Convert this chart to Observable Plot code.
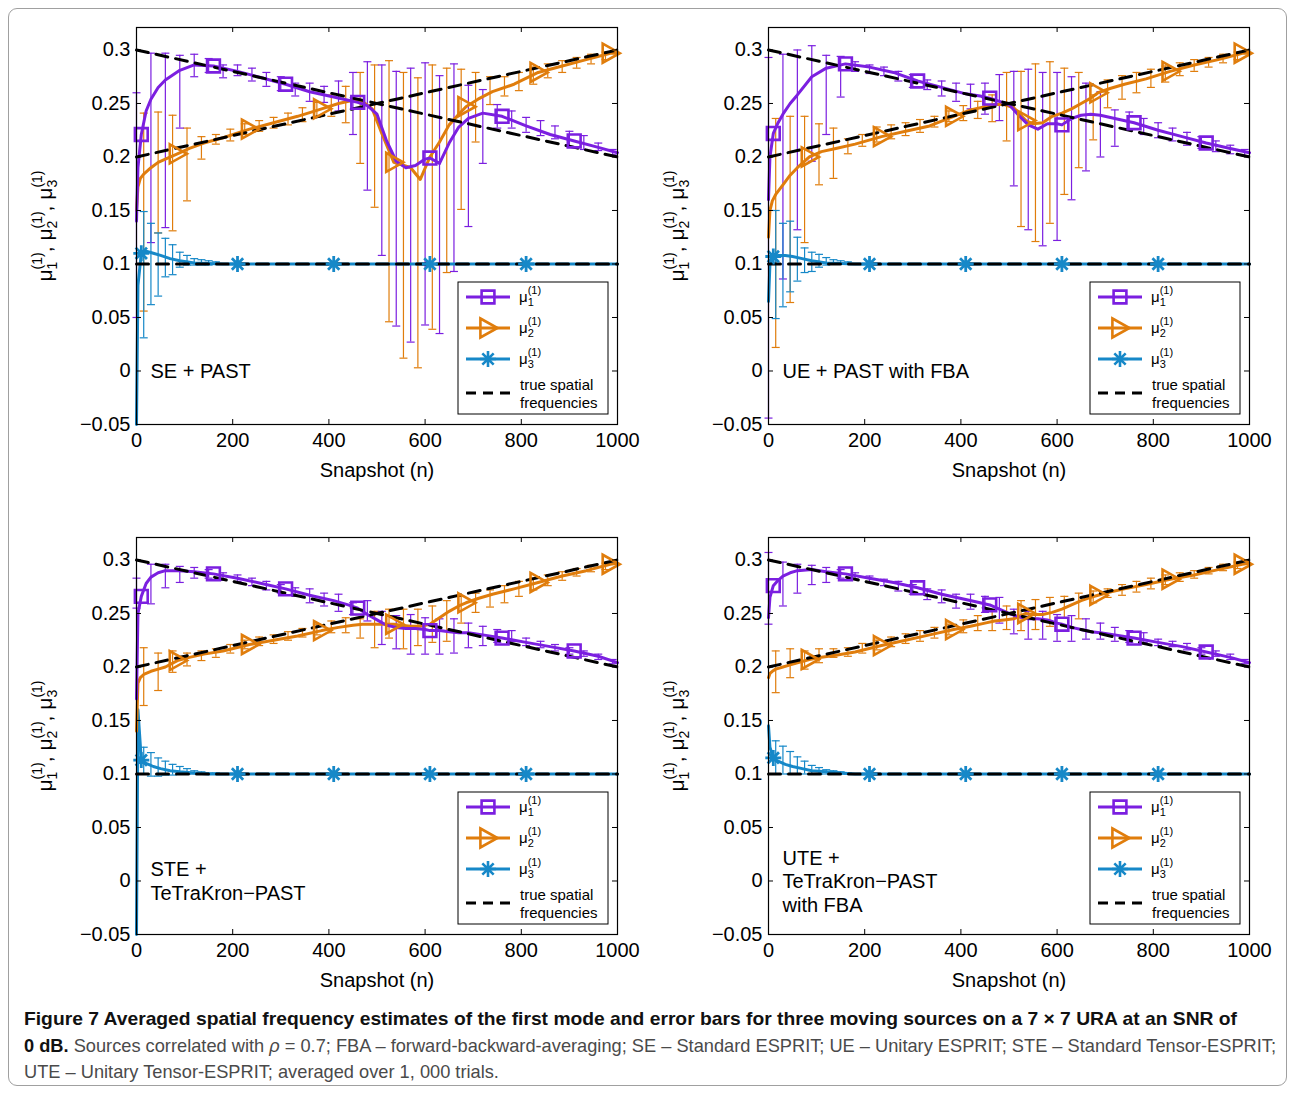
<!DOCTYPE html>
<html><head><meta charset="utf-8">
<script src="https://cdn.jsdelivr.net/npm/d3@7"></script>
<script src="https://cdn.jsdelivr.net/npm/@observablehq/plot@0.6"></script>
<style>
html,body{margin:0;padding:0;background:#fff;}
#fig{position:relative;width:1295px;height:1094px;overflow:hidden;background:#fff;}
#border{position:absolute;left:8px;top:8px;width:1279px;height:1078px;border:1px solid #a0a0a0;border-radius:9px;box-sizing:border-box;}
.panel{position:absolute;}
.cap{position:absolute;left:24px;white-space:nowrap;font-family:"Liberation Sans Narrow","Liberation Sans",Arial,sans-serif;font-size:19px;line-height:26px;transform-origin:0 50%;color:#4a4a4a;}
.cap b{color:#111;}
</style></head><body><div id="fig"><div id="border"></div></div>
<script>
// ---------- shared axes / positions ----------
const snapshotTicks = [0, 200, 400, 600, 800, 1000];
const freqTicks = [-0.05, 0, 0.05, 0.1, 0.15, 0.2, 0.25, 0.3];
const trueX = [0, 1000];
const trueMu1 = [0.3, 0.2];
const trueMu2 = [0.2, 0.3];
const trueMu3 = [0.1, 0.1];
const mu1MarkX = [10, 160, 310, 460, 610, 760, 910];
const mu2MarkX = [85, 235, 385, 535, 685, 835, 985];
const mu3MarkX = [10, 210, 410, 610, 810];
const mu1X = [0,3,10,20,30,45,60,90,120,160,210,260,310,360,410,440,460,480,500,520,540,560,580,600,610,630,650,670,690,720,760,810,860,910,960,1000];
const mu2X = [0,3,8,15,30,45,60,85,110,140,180,235,285,335,385,420,450,470,490,510,535,550,570,590,610,630,650,670,685,710,740,785,835,885,935,985,1000];
const mu3X = [0,3,10,20,35,50,70,90,120,150,180,210,410,610,810,1000];
const mu1BarX = [0,30,60,90,120,150,180,210,240,270,300,330,360,390,420,450,480,510,540,570,600,630,660,690,720,750,780,810,840,870,900,930,960,990];
const mu2BarX = [15,45,75,105,135,165,195,225,255,285,315,345,375,405,435,465,495,525,555,585,615,645,675,705,735,765,795,825,855,885,915,945,975];
const mu3BarX = [15,30,45,60,75,90,105,120,135,150,165];

// ---------- SE + PAST ----------
const seMu1 = [0.14,0.19,0.221,0.243,0.254,0.265,0.272,0.281,0.286,0.285,0.28,0.274,0.268,0.261,0.256,0.253,0.251,0.248,0.24,0.215,0.196,0.19,0.192,0.198,0.199,0.194,0.213,0.228,0.236,0.241,0.238,0.229,0.221,0.215,0.209,0.204];
const seMu2 = [0.15,0.172,0.18,0.184,0.19,0.195,0.198,0.203,0.208,0.213,0.218,0.226,0.232,0.238,0.245,0.25,0.253,0.252,0.245,0.222,0.195,0.193,0.19,0.179,0.2,0.214,0.23,0.24,0.247,0.254,0.261,0.268,0.279,0.285,0.291,0.297,0.297];
const seMu3 = [-0.05,0.08,0.11,0.112,0.11,0.108,0.105,0.103,0.101,0.1005,0.1,0.1,0.1,0.1,0.1,0.1];
const seMu1Hi = [0.26,0.297,0.297,0.295,0.296,0.292,0.286,0.286,0.283,0.279,0.275,0.269,0.269,0.266,0.271,0.279,0.289,0.286,0.28,0.283,0.288,0.276,0.287,0.267,0.263,0.249,0.243,0.237,0.234,0.229,0.224,0.22,0.213,0.207];
const seMu1Lo = [0.05,0.12,0.134,0.227,0.275,0.279,0.274,0.276,0.271,0.266,0.262,0.257,0.252,0.251,0.243,0.221,0.169,0.108,0.042,0.027,0.043,0.035,0.093,0.135,0.194,0.227,0.227,0.223,0.22,0.217,0.21,0.207,0.206,0.202];
const seMu2Hi = [0.241,0.242,0.239,0.227,0.219,0.221,0.226,0.231,0.234,0.237,0.241,0.246,0.251,0.258,0.266,0.279,0.286,0.29,0.279,0.274,0.286,0.283,0.282,0.279,0.275,0.275,0.279,0.284,0.287,0.29,0.293,0.296,0.298];
const seMu2Lo = [0.056,0.129,0.131,0.159,0.198,0.212,0.215,0.221,0.224,0.227,0.23,0.233,0.237,0.238,0.232,0.194,0.153,0.046,0.012,0.003,0.039,0.092,0.151,0.214,0.249,0.257,0.262,0.268,0.274,0.279,0.283,0.287,0.291];
const seMu3Hi = [0.149,0.138,0.129,0.124,0.118,0.111,0.108,0.105,0.104,0.103,0.102];
const seMu3Lo = [0.031,0.062,0.07,0.088,0.09,0.097,0.099,0.099,0.099,0.099,0.1];

// ---------- UE + PAST with FBA ----------
const ueMu1 = [0.16,0.2,0.222,0.232,0.24,0.25,0.258,0.275,0.283,0.287,0.284,0.279,0.271,0.265,0.259,0.257,0.255,0.252,0.249,0.239,0.23,0.226,0.231,0.231,0.23,0.236,0.239,0.24,0.239,0.236,0.232,0.225,0.219,0.213,0.208,0.204];
const ueMu2 = [0.125,0.15,0.159,0.165,0.174,0.183,0.19,0.2,0.205,0.208,0.212,0.219,0.224,0.229,0.238,0.244,0.247,0.249,0.249,0.246,0.234,0.231,0.232,0.238,0.241,0.245,0.25,0.255,0.26,0.264,0.268,0.273,0.28,0.286,0.291,0.297,0.297];
const ueMu3 = [0.065,0.1,0.107,0.108,0.108,0.107,0.105,0.103,0.101,0.1005,0.1,0.1,0.1,0.1,0.1,0.1];
const ueMu1Hi = [0.293,0.296,0.3,0.304,0.295,0.294,0.289,0.286,0.284,0.28,0.277,0.272,0.271,0.269,0.268,0.269,0.277,0.28,0.282,0.279,0.279,0.275,0.269,0.261,0.244,0.242,0.236,0.232,0.227,0.223,0.219,0.215,0.211,0.207];
const ueMu1Lo = [-0.044,0.086,0.132,0.196,0.221,0.256,0.28,0.278,0.276,0.271,0.265,0.263,0.257,0.252,0.245,0.24,0.234,0.173,0.132,0.117,0.122,0.16,0.187,0.2,0.21,0.226,0.221,0.218,0.215,0.211,0.208,0.205,0.203,0.201];
const ueMu2Hi = [0.236,0.238,0.238,0.231,0.227,0.217,0.221,0.228,0.23,0.232,0.235,0.238,0.243,0.248,0.252,0.258,0.279,0.28,0.287,0.289,0.283,0.279,0.258,0.272,0.276,0.279,0.282,0.285,0.288,0.291,0.293,0.296,0.298];
const ueMu2Lo = [0.022,0.064,0.12,0.174,0.18,0.203,0.21,0.214,0.217,0.22,0.223,0.228,0.233,0.234,0.236,0.233,0.215,0.135,0.121,0.138,0.165,0.19,0.216,0.246,0.254,0.26,0.265,0.27,0.276,0.28,0.284,0.288,0.291];
const ueMu3Hi = [0.15,0.138,0.14,0.125,0.115,0.111,0.109,0.106,0.104,0.103,0.102];
const ueMu3Lo = [0.049,0.06,0.074,0.084,0.092,0.093,0.097,0.099,0.1,0.1,0.1];

// ---------- STE + TeTraKron-PAST ----------
const steMu1 = [0.17,0.25,0.266,0.278,0.284,0.288,0.29,0.29,0.289,0.287,0.283,0.278,0.273,0.267,0.262,0.258,0.255,0.249,0.244,0.239,0.237,0.236,0.236,0.235,0.234,0.234,0.233,0.232,0.232,0.23,0.227,0.223,0.219,0.215,0.21,0.204];
const steMu2 = [0.14,0.185,0.19,0.193,0.196,0.198,0.2,0.206,0.209,0.212,0.215,0.221,0.225,0.229,0.234,0.237,0.239,0.24,0.24,0.24,0.24,0.239,0.238,0.238,0.24,0.246,0.252,0.257,0.26,0.264,0.268,0.273,0.279,0.285,0.29,0.296,0.297];
const steMu3 = [-0.05,0.16,0.113,0.11,0.107,0.105,0.103,0.102,0.101,0.1,0.1,0.1,0.1,0.1,0.1,0.1];
const steMu1Hi = [0.283,0.296,0.296,0.294,0.293,0.291,0.288,0.286,0.283,0.28,0.277,0.274,0.273,0.269,0.268,0.26,0.262,0.252,0.248,0.249,0.246,0.245,0.245,0.241,0.238,0.235,0.234,0.227,0.224,0.221,0.218,0.215,0.212,0.207];
const steMu1Lo = [0.255,0.259,0.274,0.279,0.283,0.283,0.281,0.28,0.276,0.272,0.269,0.266,0.26,0.257,0.252,0.249,0.243,0.221,0.217,0.212,0.212,0.212,0.213,0.218,0.22,0.223,0.224,0.22,0.218,0.215,0.212,0.21,0.207,0.203];
const steMu2Hi = [0.218,0.213,0.215,0.213,0.215,0.217,0.221,0.225,0.228,0.23,0.233,0.236,0.24,0.243,0.246,0.245,0.252,0.254,0.254,0.254,0.257,0.262,0.266,0.269,0.272,0.276,0.28,0.283,0.286,0.289,0.292,0.295,0.297];
const steMu2Lo = [0.164,0.178,0.195,0.201,0.206,0.209,0.213,0.217,0.22,0.222,0.225,0.228,0.23,0.232,0.232,0.227,0.218,0.227,0.217,0.22,0.223,0.224,0.241,0.251,0.256,0.26,0.266,0.272,0.276,0.281,0.285,0.289,0.291];
const steMu3Hi = [0.125,0.12,0.115,0.112,0.109,0.107,0.105,0.103,0.102,0.101,0.101];
const steMu3Lo = [0.1,0.098,0.098,0.099,0.099,0.1,0.1,0.1,0.1,0.1,0.1];

// ---------- UTE + TeTraKron-PAST with FBA ----------
const uteMu1 = [0.246,0.265,0.276,0.281,0.285,0.288,0.29,0.291,0.289,0.287,0.283,0.279,0.274,0.268,0.263,0.26,0.258,0.254,0.25,0.247,0.245,0.245,0.244,0.241,0.24,0.237,0.235,0.233,0.232,0.23,0.227,0.223,0.219,0.214,0.209,0.204];
const uteMu2 = [0.19,0.194,0.196,0.198,0.2,0.202,0.204,0.207,0.209,0.211,0.214,0.22,0.225,0.23,0.235,0.238,0.241,0.243,0.244,0.245,0.25,0.249,0.249,0.251,0.254,0.258,0.262,0.265,0.267,0.27,0.273,0.277,0.282,0.286,0.291,0.296,0.297];
const uteMu3 = [0.145,0.125,0.115,0.112,0.109,0.107,0.105,0.103,0.102,0.101,0.1,0.1,0.1,0.1,0.1,0.1];
const uteMu1Hi = [0.307,0.298,0.296,0.295,0.293,0.291,0.288,0.285,0.282,0.28,0.277,0.273,0.272,0.268,0.268,0.266,0.265,0.254,0.252,0.252,0.249,0.248,0.245,0.241,0.237,0.234,0.232,0.226,0.224,0.222,0.218,0.215,0.212,0.207];
const uteMu1Lo = [0.24,0.257,0.269,0.277,0.279,0.283,0.282,0.279,0.276,0.271,0.268,0.263,0.26,0.255,0.254,0.251,0.241,0.231,0.226,0.226,0.224,0.224,0.226,0.226,0.224,0.223,0.223,0.22,0.219,0.216,0.212,0.21,0.207,0.203];
const uteMu2Hi = [0.215,0.217,0.215,0.217,0.217,0.218,0.222,0.225,0.228,0.231,0.234,0.237,0.24,0.244,0.248,0.252,0.257,0.262,0.263,0.265,0.266,0.269,0.271,0.273,0.277,0.28,0.283,0.286,0.288,0.29,0.293,0.296,0.298];
const uteMu2Lo = [0.176,0.19,0.198,0.204,0.209,0.21,0.213,0.216,0.219,0.222,0.224,0.227,0.23,0.232,0.234,0.234,0.235,0.234,0.235,0.238,0.246,0.245,0.26,0.265,0.267,0.27,0.273,0.277,0.28,0.283,0.287,0.29,0.292];
const uteMu3Hi = [0.131,0.126,0.121,0.116,0.112,0.108,0.106,0.104,0.103,0.102,0.101];
const uteMu3Lo = [0.1,0.1,0.1,0.1,0.1,0.1,0.1,0.1,0.1,0.1,0.1];

const panelLabels = ["SE + PAST", "UE + PAST with FBA", "STE +\nTeTraKron\u2212PAST", "UTE +\nTeTraKron\u2212PAST\nwith FBA"];
const legendLabels = ["true spatial", "frequencies"];
const xLabel = "Snapshot (n)";

// ---------- styling ----------
const PURPLE = "#7b1fe0", ORANGE = "#e07d0c", BLUE = "#1688c8";
const W = 640, H = 470, ML = 116, MR = 43, MT = 7, MB = 66;
const innerW = W - ML - MR, innerH = H - MT - MB;
const FONT = "'Liberation Sans', Arimo, Helvetica, Arial, sans-serif";

const squareSym = {draw(c, s) { const r = Math.sqrt(s / Math.PI); c.moveTo(-r, -r); c.lineTo(r, -r); c.lineTo(r, r); c.lineTo(-r, r); c.closePath(); }};
const triSym = {draw(c, s) { const r = Math.sqrt(s / Math.PI); c.moveTo(-0.8 * r, -r); c.lineTo(r, 0); c.lineTo(-0.8 * r, r); c.closePath(); }};
const starSym = {draw(c, s) { const r = Math.sqrt(s / Math.PI); const d = r * 0.7071;
  c.moveTo(0, -r); c.lineTo(0, r); c.moveTo(-r, 0); c.lineTo(r, 0);
  c.moveTo(-d, -d); c.lineTo(d, d); c.moveTo(-d, d); c.lineTo(d, -d); }};
const capSym = {draw(c, s) { const r = Math.sqrt(s / Math.PI); c.moveTo(-r, 0); c.lineTo(r, 0); }};

const rows = (xs, ys) => xs.map((x, i) => ({x, y: ys[i]}));
const bars = (xs, lo, hi) => xs.map((x, i) => ({x, lo: lo[i], hi: hi[i]}));

function errMarks(b, color) {
  return [
    Plot.ruleX(b, {x: "x", y1: "lo", y2: "hi", stroke: color, strokeWidth: 1.2}),
    Plot.dot(b, {x: "x", y: "lo", symbol: capSym, r: 4, fill: "none", stroke: color, strokeWidth: 1.2}),
    Plot.dot(b, {x: "x", y: "hi", symbol: capSym, r: 4, fill: "none", stroke: color, strokeWidth: 1.2})
  ];
}

function addMuText(sel, i, big, small, sub, sup, subW) {
  sel.append("tspan").attr("font-size", big).attr("dy", 0).text("\u03bc");
  sel.append("tspan").attr("font-size", small).attr("dy", sub).text(String(i));
  sel.append("tspan").attr("font-size", small).attr("dx", -subW).attr("dy", sup - sub).text("(1)");
  return -sup;
}

function makePanel(p) {
  const m1 = rows(mu1X, p.mu1), m2 = rows(mu2X, p.mu2), m3 = rows(mu3X, p.mu3);
  const b1 = bars(mu1BarX, p.lo1, p.hi1), b2 = bars(mu2BarX, p.lo2, p.hi2), b3 = bars(mu3BarX, p.lo3, p.hi3);
  const t1 = rows(trueX, trueMu1), t2 = rows(trueX, trueMu2), t3 = rows(trueX, trueMu3);
  const dash = {x: "x", y: "y", stroke: "#000", strokeWidth: 3, strokeDasharray: "12,8"};
  const svg = Plot.plot({
    width: W, height: H, marginLeft: ML, marginRight: MR, marginTop: MT, marginBottom: MB,
    x: {domain: [0, 1000]},
    y: {domain: [-0.05, 0.321]},
    style: {fontFamily: FONT, fontSize: "20px", color: "#000", background: "transparent", overflow: "visible"},
    marks: [
      ...errMarks(b2, ORANGE), ...errMarks(b1, PURPLE), ...errMarks(b3, BLUE),
      Plot.line(m3, {x: "x", y: "y", stroke: BLUE, strokeWidth: 3}),
      Plot.line(m2, {x: "x", y: "y", stroke: ORANGE, strokeWidth: 3}),
      Plot.line(m1, {x: "x", y: "y", stroke: PURPLE, strokeWidth: 3}),
      Plot.line(t3, dash), Plot.line(t1, dash), Plot.line(t2, dash),
      Plot.dot(m1, {filter: d => mu1MarkX.includes(d.x), x: "x", y: "y", symbol: squareSym, r: 6.4, fill: "none", stroke: PURPLE, strokeWidth: 2.6}),
      Plot.dot(m2, {filter: d => mu2MarkX.includes(d.x), x: "x", y: "y", symbol: triSym, r: 9.5, fill: "none", stroke: ORANGE, strokeWidth: 2.6}),
      Plot.dot(m3, {filter: d => mu3MarkX.includes(d.x), x: "x", y: "y", symbol: starSym, r: 8, fill: "none", stroke: BLUE, strokeWidth: 2.8}),
      Plot.frame({stroke: "#000", strokeWidth: 1.2}),
      Plot.tickX(snapshotTicks, {x: d => d, insetBottom: innerH - 5, stroke: "#000"}),
      Plot.tickX(snapshotTicks, {x: d => d, insetTop: innerH - 5, stroke: "#000"}),
      Plot.tickY(freqTicks, {y: d => d, insetRight: innerW - 5, stroke: "#000"}),
      Plot.tickY(freqTicks, {y: d => d, insetLeft: innerW - 5, stroke: "#000"}),
      Plot.axisX({ticks: snapshotTicks, tickSize: 0, tickPadding: 8, label: null, tickFormat: d => String(d)}),
      Plot.axisY({ticks: freqTicks, tickSize: 0, tickPadding: 6, label: null, tickFormat: d3.format("~g")}),
      Plot.text([p.label], {frameAnchor: "top-left", dx: 14, dy: 343, text: d => d, textAnchor: "start", lineAnchor: "middle", lineHeight: 1.175, fontSize: 20}),
      Plot.text([xLabel], {frameAnchor: "bottom", dy: 46, text: d => d, lineAnchor: "middle", fontSize: 20})
    ]
  });
  const s = d3.select(svg);
  // y label
  const yl = s.append("text").attr("transform", `translate(${ML - 84},${MT + 199}) rotate(-90)`)
    .attr("text-anchor", "middle").attr("fill", "#000").attr("font-family", FONT);
  for (let i = 1; i <= 3; i++) {
    const back = addMuText(yl, i, 21, 14, 5, -10, 7.8);
    if (i < 3) yl.append("tspan").attr("font-size", 21).attr("dy", back).text(", ");
  }
  // legend
  const g = s.append("g").attr("transform", `translate(${ML + 322},${MT + 255})`)
    .attr("font-family", FONT).attr("text-anchor", "start");
  g.append("rect").attr("width", 150).attr("height", 132).attr("fill", "#fff").attr("stroke", "#000").attr("stroke-width", 1);
  const entries = [[PURPLE, squareSym, 6.4, 15], [ORANGE, triSym, 9.5, 46], [BLUE, starSym, 8, 77]];
  entries.forEach(([col, sym, r, y], k) => {
    g.append("line").attr("x1", 8).attr("x2", 52).attr("y1", y).attr("y2", y).attr("stroke", col).attr("stroke-width", 3);
    g.append("path").attr("transform", `translate(30,${y})`).attr("d", d3.symbol(sym, Math.PI * r * r)())
      .attr("fill", "none").attr("stroke", col).attr("stroke-width", 2.6);
    const t = g.append("text").attr("x", 61).attr("y", y + 5).attr("fill", "#000").attr("text-anchor", "start");
    addMuText(t, k + 1, 15, 11, 4, -8, 6.1);
  });
  g.append("line").attr("x1", 8).attr("x2", 52).attr("y1", 111).attr("y2", 111).attr("stroke", "#000").attr("stroke-width", 3).attr("stroke-dasharray", "10,7");
  g.append("text").attr("x", 62).attr("y", 108).attr("font-size", 15).attr("fill", "#000").attr("text-anchor", "start").text(legendLabels[0]);
  g.append("text").attr("x", 62).attr("y", 126).attr("font-size", 15).attr("fill", "#000").attr("text-anchor", "start").text(legendLabels[1]);
  svg.classList.add("panel");
  svg.style.left = p.left + "px";
  svg.style.top = p.top + "px";
  document.getElementById("fig").appendChild(svg);
}

makePanel({left: 20, top: 20, label: panelLabels[0], mu1: seMu1, mu2: seMu2, mu3: seMu3, lo1: seMu1Lo, hi1: seMu1Hi, lo2: seMu2Lo, hi2: seMu2Hi, lo3: seMu3Lo, hi3: seMu3Hi});
makePanel({left: 652, top: 20, label: panelLabels[1], mu1: ueMu1, mu2: ueMu2, mu3: ueMu3, lo1: ueMu1Lo, hi1: ueMu1Hi, lo2: ueMu2Lo, hi2: ueMu2Hi, lo3: ueMu3Lo, hi3: ueMu3Hi});
makePanel({left: 20, top: 530, label: panelLabels[2], mu1: steMu1, mu2: steMu2, mu3: steMu3, lo1: steMu1Lo, hi1: steMu1Hi, lo2: steMu2Lo, hi2: steMu2Hi, lo3: steMu3Lo, hi3: steMu3Hi});
makePanel({left: 652, top: 530, label: panelLabels[3], mu1: uteMu1, mu2: uteMu2, mu3: uteMu3, lo1: uteMu1Lo, hi1: uteMu1Hi, lo2: uteMu2Lo, hi2: uteMu2Hi, lo3: uteMu3Lo, hi3: uteMu3Hi});

// ---------- caption ----------
const captionLines = [
  {html: "<b>Figure 7 Averaged spatial frequency estimates of the first mode and error bars for three moving sources on a 7 \u00d7 7 URA at an SNR of</b>", top: 1006, target: 1213},
  {html: "<b>0 dB.</b> Sources correlated with <i>\u03c1</i> = 0.7; FBA \u2013 forward-backward-averaging; SE \u2013 Standard ESPRIT; UE \u2013 Unitary ESPRIT; STE \u2013 Standard Tensor-ESPRIT;", top: 1033, target: 1252},
  {html: "UTE \u2013 Unitary Tensor-ESPRIT; averaged over 1, 000 trials.", top: 1059, target: null}
];
const fig = document.getElementById("fig");
let lastScale = 1;
captionLines.forEach(c => {
  const d = document.createElement("div");
  d.className = "cap";
  d.innerHTML = c.html;
  d.style.top = c.top + "px";
  fig.appendChild(d);
  const w = d.getBoundingClientRect().width;
  const sc = c.target ? c.target / w : lastScale;
  lastScale = sc;
  d.style.transform = `scaleX(${sc})`;
});
</script></body></html>
